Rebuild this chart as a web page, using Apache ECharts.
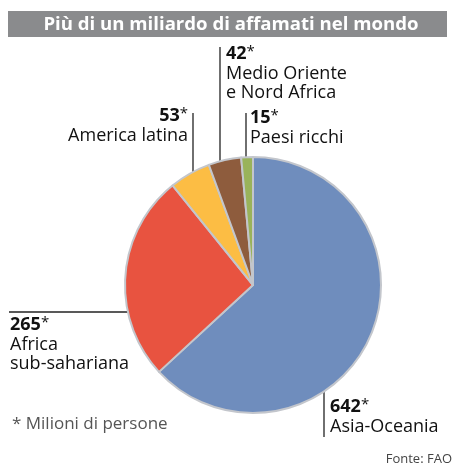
<!DOCTYPE html>
<html>
<head>
<meta charset="utf-8">
<script src="https://cdn.jsdelivr.net/npm/echarts@6/dist/echarts.min.js"></script>
<style>
  html, body { margin: 0; padding: 0; background: #fff; }
  #chart { width: 456px; height: 473px; }
</style>
</head>
<body>
<div id="chart"></div>
<script>
// Più di un miliardo di affamati nel mondo (FAO)
var regions = ['Asia-Oceania', 'Africa\nsub-sahariana', 'America latina', 'Medio Oriente\ne Nord Africa', 'Paesi ricchi'];
var hungry = [642, 265, 53, 42, 15];
var colors = ['#6f8dbd', '#e85340', '#fcbd44', '#8e5c3d', '#99b35a'];

var dom = document.getElementById('chart');
var myChart = echarts.init(dom);

// where each label goes, and its leader line
var labelSpots = [
    { x: 330, y: 397, align: 'left',  line: [[324, 338], [324, 437], [324, 437]] },
    { x: 10,  y: 315, align: 'left',  line: [[170, 312], [9, 312], [9, 312]] },
    { x: 188, y: 106, align: 'right', line: [[193, 188], [193, 113], [193, 113]] },
    { x: 226, y: 44,  align: 'left',  line: [[220, 172], [220, 47], [220, 47]] },
    { x: 250, y: 108, align: 'left',  line: [[246, 170], [246, 113], [246, 113]] }
];

var font = '"Open Sans", Roboto, sans-serif';

var option = {
    title: {
        text: 'Più di un miliardo di affamati nel mondo',
        left: 226,
        textAlign: 'center',
        top: 10,
        textStyle: { color: '#fff', fontSize: 18.6, fontWeight: 'bold', fontFamily: font }
    },
    graphic: [
        { type: 'rect', z: -1, shape: { x: 8, y: 11, width: 439, height: 26 }, style: { fill: '#8a8b8d' } },
        { type: 'text', left: 12, top: 416, style: { text: '* Milioni di persone', fill: '#555', fontSize: 17, fontFamily: font } },
        { type: 'text', right: 4, top: 453, style: { text: 'Fonte: FAO', fill: '#444', fontSize: 13, fontFamily: font } }
    ],
    series: [
        {
            type: 'pie',
            center: [253, 285],
            radius: 128,
            startAngle: 90,
            clockwise: true,
            animation: false,
            silent: true,
            itemStyle: { borderColor: '#c3c6cc', borderWidth: 2 },
            data: regions.map(function (r, i) {
                return { name: r, value: hungry[i], itemStyle: { color: colors[i] } };
            }),
            label: {
                show: true,
                overflow: 'none',
                color: '#111',
                fontFamily: font,
                formatter: '{v|{c}}{s|*}\n{n|{b}}',
                rich: {
                    v: { fontSize: 18, fontWeight: 'bold', lineHeight: 20, color: '#111', fontFamily: font },
                    s: { fontSize: 15, lineHeight: 20, color: '#111', fontFamily: font, verticalAlign: 'top' },
                    n: { fontSize: 18, fontWeight: 500, lineHeight: 19, color: '#111', fontFamily: font }
                }
            },
            labelLine: {
                show: true,
                lineStyle: { color: '#222', width: 1.3 }
            },
            labelLayout: function (params) {
                var s = labelSpots[params.dataIndex];
                return {
                    x: s.x,
                    y: s.y,
                    align: s.align,
                    verticalAlign: 'top',
                    labelLinePoints: s.line
                };
            }
        }
    ]
};

if (option && typeof option === 'object') {
    myChart.setOption(option);
}
</script>
</body>
</html>
